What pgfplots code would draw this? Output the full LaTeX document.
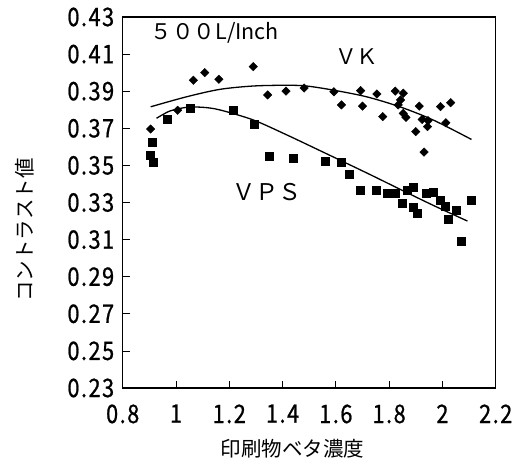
\documentclass[border=0pt]{standalone}
\usepackage{pgfplots}
\pgfplotsset{compat=1.18}
\usepackage{fontspec}
\setmainfont{Noto Sans CJK JP}
\newfontfamily\tickfont[FakeStretch=0.85, FakeBold=0.8, LetterSpace=6]{Noto Sans CJK JP}
\begin{document}
\begin{tikzpicture}
\useasboundingbox (-122.7pt,-73pt) rectangle (393.3pt,388pt);
\begin{axis}[
  at={(0pt,0pt)}, anchor=south west,
  scale only axis,
  width=373pt, height=371pt,
  xmin=0.8, xmax=2.2, ymin=0.23, ymax=0.43,
  xtick={0.8,1,1.2,1.4,1.6,1.8,2,2.2},
  ytick={0.23,0.25,0.27,0.29,0.31,0.33,0.35,0.37,0.39,0.41,0.43},
  xticklabels={0.8,1,1.2,1.4,1.6,1.8,2,2.2},
  yticklabels={0.23,0.25,0.27,0.29,0.31,0.33,0.35,0.37,0.39,0.41,0.43},
  tick align=inside,
  xtick pos=bottom, ytick pos=left,
  major tick length=7pt,
  axis line style={line width=1.2pt},
  tick style={line width=0.8pt, black},
  ticklabel style={font=\tickfont\fontsize{25.5}{26}\selectfont},
  yticklabel style={xshift=-5pt},
  xticklabel style={yshift=-13pt},
  ylabel={コントラスト値},
  xlabel={印刷物ベタ濃度},
  label style={font=\fontsize{20.5}{22}\selectfont},
  ylabel style={at={(axis description cs:-0.262,0.426)}, anchor=center, rotate=0},
  xlabel style={at={(axis description cs:0.455,-0.165)}, anchor=center},
  clip=false,
]
% VK
\addplot[only marks, mark=square*, mark size=3pt, mark options={rotate=45, fill=black, draw=black}] coordinates {
(0.905,0.3696) (1.006,0.3797) (1.065,0.3959) (1.108,0.4000) (1.161,0.3964)
(1.290,0.4032) (1.344,0.3880) (1.413,0.3900) (1.481,0.3917) (1.593,0.3897)
(1.621,0.3826) (1.693,0.3903) (1.700,0.3820) (1.754,0.3885) (1.776,0.3763)
(1.823,0.3900) (1.853,0.3889) (1.843,0.3853) (1.834,0.3826) (1.853,0.3780)
(1.863,0.3759) (1.913,0.3820) (1.924,0.3748) (1.946,0.3741) (1.944,0.3709)
(1.900,0.3682) (1.993,0.3817) (2.031,0.3838) (2.013,0.3730) (1.931,0.3572)
};
% VPS
\addplot[only marks, mark=square*, mark size=4pt, mark options={fill=black, draw=black}] coordinates {
(0.912,0.3625) (0.902,0.3556) (0.915,0.3515) (0.966,0.3748) (1.055,0.3809)
(1.214,0.3799) (1.292,0.3723) (1.350,0.3550) (1.441,0.3538) (1.560,0.3520)
(1.621,0.3515) (1.651,0.3450) (1.690,0.3369) (1.750,0.3366) (1.792,0.3350)
(1.821,0.3350) (1.850,0.3294) (1.868,0.3364) (1.892,0.3382) (1.892,0.3274)
(1.905,0.3242) (1.940,0.3350) (1.965,0.3358) (1.990,0.3313) (2.011,0.3281)
(2.021,0.3209) (2.053,0.3260) (2.069,0.3089) (2.109,0.3313)
};
% VK trend
\addplot[smooth, black, line width=1.3pt, no marks] coordinates {
(0.905,0.3816) (1.04,0.3870) (1.165,0.3910) (1.29,0.3928) (1.415,0.3932)
(1.49,0.3928) (1.59,0.3906) (1.715,0.3870) (1.84,0.3816) (1.965,0.3745) (2.109,0.3640)
};
% VPS trend
\addplot[smooth, black, line width=1.3pt, no marks] coordinates {
(0.927,0.3754) (0.977,0.3793) (1.04,0.3813) (1.102,0.3813) (1.165,0.3799)
(1.29,0.3745) (1.415,0.3665) (1.54,0.3580) (1.715,0.3460) (1.84,0.3372)
(1.965,0.3285) (2.094,0.3200)
};
\node[anchor=west, inner sep=0pt, font=\fontsize{21.5}{23}\selectfont] at (axis cs:0.905,0.4214) {５００L/Inch};
\node[anchor=center, inner sep=0pt, font=\fontsize{21.5}{22}\selectfont] at (axis cs:1.679,0.4084) {ＶＫ};
\node[anchor=center, inner sep=0pt, font=\fontsize{23}{24}\selectfont] at (axis cs:1.341,0.3357) {ＶＰＳ};
\end{axis}
\end{tikzpicture}
\end{document}
